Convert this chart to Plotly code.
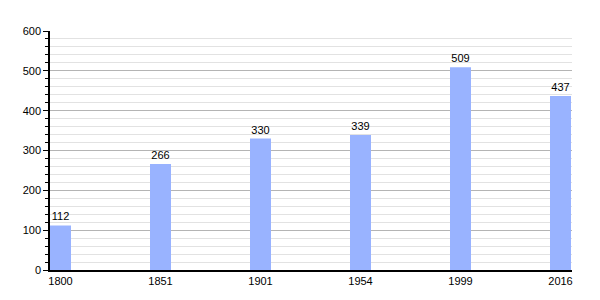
import plotly.graph_objects as go

years = ["1800", "1851", "1901", "1954", "1999", "2016"]
population = [112, 266, 330, 339, 509, 437]

bar_w = 0.21
xs = list(range(len(years)))

fig = go.Figure()
fig.add_trace(go.Bar(
    x=xs, y=population, offset=0, width=bar_w,
    marker=dict(color="#99b3ff", line=dict(width=0)),
    text=[str(v) for v in population], textposition="outside",
    textfont=dict(family="Liberation Sans, Arial, sans-serif", size=11, color="black"),
    cliponaxis=False,
))

fig.update_layout(
    width=600, height=300,
    margin=dict(l=50, r=28, t=31, b=30),
    plot_bgcolor="white", paper_bgcolor="white",
    showlegend=False,
    font=dict(family="Liberation Sans, Arial, sans-serif", size=11, color="black"),
    xaxis=dict(
        range=[0, 5.22], tickmode="array",
        tickvals=[i + bar_w / 2 for i in xs], ticktext=years,
        showgrid=False, zeroline=False, showline=True, linecolor="black", linewidth=1.5,
        ticks="", ticklen=0,
    ),
    yaxis=dict(
        range=[0, 600], dtick=100, showgrid=True, gridcolor="#b4b4b4", gridwidth=1,
        zeroline=False, showline=True, linecolor="black", linewidth=1.5,
        ticks="outside", ticklen=5, tickcolor="black",
        minor=dict(dtick=20, showgrid=True, gridcolor="#e2e2e2", gridwidth=1,
                   ticks="outside", ticklen=3, tickcolor="black"),
    ),
)

fig.write_html("out.html")
